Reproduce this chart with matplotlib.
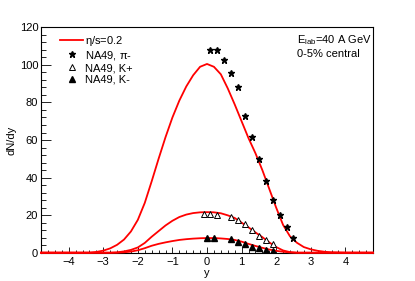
import matplotlib
matplotlib.use('Agg')
import matplotlib.pyplot as plt
from matplotlib.ticker import MultipleLocator

plt.rcParams['font.family'] = ['Liberation Sans', 'DejaVu Sans']
plt.rcParams['mathtext.fontset'] = 'custom'
plt.rcParams['mathtext.rm'] = 'Liberation Sans'
plt.rcParams['mathtext.it'] = 'Liberation Sans'

# NA49 data points
pi_y = [0.1, 0.3, 0.5, 0.7, 0.9, 1.1, 1.3, 1.5, 1.7, 1.9, 2.1, 2.3, 2.5]
pi_n = [107.8, 108.2, 102.8, 95.9, 88.3, 72.9, 61.4, 50.0, 38.3, 28.1, 20.1, 13.7, 7.8]

kp_y = [-0.1, 0.1, 0.3, 0.7, 0.9, 1.1, 1.3, 1.5, 1.7, 1.9]
kp_n = [20.5, 20.5, 20.3, 19.2, 17.3, 15.3, 12.1, 8.9, 6.8, 4.6]

km_y = [0.0, 0.2, 0.7, 0.9, 1.1, 1.3, 1.5, 1.7, 1.9]
km_n = [8.0, 8.0, 7.2, 5.9, 4.6, 3.2, 2.3, 1.4, 0.9]

# hydro curves (eta/s = 0.2)
c_pi_x = [-4.8, -3.4, -3.2, -3.0, -2.8, -2.6, -2.4, -2.2, -2.0, -1.8, -1.6, -1.4, -1.2,
          -1.0, -0.8, -0.6, -0.4, -0.2, 0.0, 0.2, 0.4, 0.6, 0.8, 1.0, 1.2, 1.4, 1.6,
          1.8, 2.0, 2.2, 2.4, 2.6, 2.8, 3.0, 3.2, 3.4, 3.6, 4.0, 4.8]
c_pi_n = [0, 0, 0.4, 1.1, 2.3, 4.2, 7.0, 11.3, 17.5, 26.5, 38, 50, 61.5,
          72, 81, 88.5, 94.5, 99, 100.5, 99, 95, 87.5, 79, 70, 61, 53, 44,
          34, 24, 14.8, 8.7, 5.3, 3.0, 1.8, 1.0, 0.5, 0.2, 0, 0]

c_kp_x = [-4.8, -2.8, -2.6, -2.4, -2.2, -2.0, -1.8, -1.6, -1.4, -1.2, -1.0, -0.8, -0.6,
          -0.4, -0.2, 0.0, 0.2, 0.4, 0.6, 0.8, 1.0, 1.2, 1.4, 1.6, 1.8, 2.0, 2.2,
          2.4, 2.6, 4.8]
c_kp_n = [0, 0, 0.2, 0.7, 1.5, 2.8, 5.2, 8.5, 11.5, 14.5, 17.0, 19.0, 20.3,
          21.1, 21.5, 21.6, 21.5, 21.0, 19.9, 18.5, 16.0, 13.5, 10.8, 8.3, 5.5, 3.0, 1.2,
          0.3, 0, 0]

c_km_x = [-4.8, -2.6, -2.4, -2.2, -2.0, -1.8, -1.6, -1.4, -1.2, -1.0, -0.8, -0.6, -0.4,
          -0.2, 0.0, 0.2, 0.4, 0.6, 0.8, 1.0, 1.2, 1.4, 1.6, 1.8, 2.0, 2.2, 2.4,
          2.6, 4.8]
c_km_n = [0, 0, 0.2, 0.6, 1.3, 2.4, 3.7, 4.7, 5.5, 6.2, 6.8, 7.2, 7.5,
          7.7, 7.8, 7.8, 7.6, 7.3, 6.8, 5.9, 4.7, 3.6, 2.6, 1.7, 1.0, 0.5, 0.15,
          0, 0]

fig = plt.figure(figsize=(4.15, 2.81), dpi=100)
ax = fig.add_axes([0.0988, 0.1007, 0.80, 0.802])

red = '#ff0000'
l1, = ax.plot(c_pi_x, c_pi_n, color=red, lw=1.3, clip_on=False, zorder=3)
ax.plot(c_kp_x, c_kp_n, color=red, lw=1.3, clip_on=False, zorder=3)
ax.plot(c_km_x, c_km_n, color=red, lw=1.3, clip_on=False, zorder=3)

s1, = ax.plot(pi_y, pi_n, '*', color='black', ms=5, ls='none', zorder=4)
s2, = ax.plot(kp_y, kp_n, '^', mfc='white', mec='black', mew=0.7, ms=4, ls='none', zorder=4)
s3, = ax.plot(km_y, km_n, '^', color='black', ms=4, ls='none', zorder=4)

ax.set_xlim(-4.8, 4.8)
ax.set_ylim(0, 120)

ax.xaxis.set_major_locator(MultipleLocator(1))
ax.xaxis.set_minor_locator(MultipleLocator(0.2))
ax.yaxis.set_major_locator(MultipleLocator(20))
ax.yaxis.set_minor_locator(MultipleLocator(4))
ax.tick_params(axis='both', which='both', direction='in', labelsize=8, width=0.6,
               colors='black')
ax.tick_params(axis='y', which='major', length=7.2, pad=2)
ax.tick_params(axis='y', which='minor', length=3.6)
ax.tick_params(axis='x', which='major', length=4.3, pad=3)
ax.tick_params(axis='x', which='minor', length=2.4)
for sp in ax.spines.values():
    sp.set_linewidth(0.8)

ax.set_xlabel('y', fontsize=8, labelpad=1)
ax.set_ylabel('dN/dy', fontsize=8, labelpad=2)

leg = ax.legend([l1, s1, s2, s3], [r'$\eta$/s=0.2', 'NA49, $\pi$-', 'NA49, K+', 'NA49, K-'],
                loc='upper left', bbox_to_anchor=(0.035, 1.007), frameon=False, fontsize=8,
                handlelength=2.0, handletextpad=0.2, labelspacing=0.12, borderaxespad=0.3)

ax.text(0.77, 0.975, r'E$_{\mathrm{lab}}$=40 A GeV', transform=ax.transAxes,
        fontsize=8, va='top', ha='left')
ax.text(0.77, 0.905, '0-5% central', transform=ax.transAxes,
        fontsize=8, va='top', ha='left')

fig.savefig('out.png', dpi=100)
